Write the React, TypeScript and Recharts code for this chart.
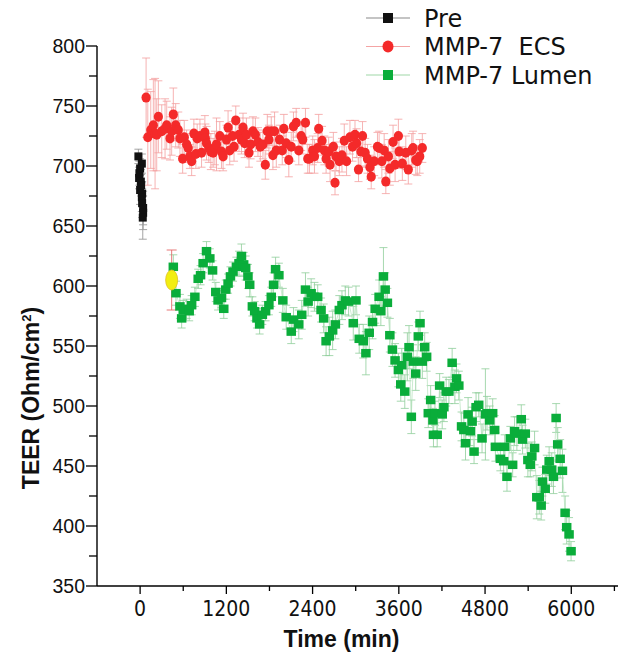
import { ScatterChart, Scatter, XAxis, YAxis, ErrorBar, Label } from 'recharts';

// [time (min), TEER (Ohm/cm2), error]
type Pt = [number, number, number];

const PRE: Pt[] = [
  [-24, 708, 6], [24, 702, 8], [0, 698, 8], [-10, 694, 10], [-14, 690, 9], [10, 687, 10], [14, 684, 9],
  [0, 680, 12], [28, 677, 10], [24, 674, 12], [28, 669, 12], [42, 665, 14], [42, 661, 14], [37, 657, 18],
];

const ECS: Pt[] = [
  [83, 757, 33], [107, 724, 40], [148, 730, 32], [184, 734, 38], [208, 727, 46], [231, 726, 30], [254, 741, 30],
  [301, 729, 22], [347, 731, 25], [370, 734, 20], [416, 723, 18], [439, 729, 20], [462, 743, 22], [495, 734, 18],
  [531, 730, 15], [554, 723, 15], [592, 706, 12], [614, 724, 14], [647, 718, 12], [669, 715, 12], [693, 708, 10],
  [717, 704, 12], [748, 727, 12], [776, 710, 12], [794, 723, 12], [832, 725, 14], [855, 711, 12], [901, 728, 14],
  [908, 723, 12], [924, 719, 14], [956, 715, 12], [984, 712, 15], [1016, 711, 12], [1040, 715, 14], [1063, 718, 22],
  [1109, 725, 12], [1132, 712, 14], [1155, 708, 12], [1202, 722, 12], [1224, 732, 14], [1247, 713, 12], [1285, 725, 12],
  [1307, 716, 12], [1331, 738, 12], [1376, 726, 14], [1410, 722, 12], [1432, 732, 12], [1455, 719, 12], [1479, 726, 14],
  [1515, 711, 12], [1538, 718, 12], [1570, 729, 12], [1604, 726, 14], [1640, 720, 12], [1673, 716, 12], [1709, 718, 12],
  [1742, 701, 12], [1770, 729, 14], [1792, 722, 12], [1825, 729, 12], [1848, 709, 12], [1871, 729, 16], [1895, 713, 14],
  [1940, 722, 12], [1978, 713, 12], [2000, 731, 12], [2033, 719, 12], [2069, 705, 14], [2103, 716, 12], [2134, 733, 12],
  [2172, 736, 12], [2208, 713, 12], [2241, 725, 12], [2263, 722, 12], [2301, 736, 12], [2333, 706, 12], [2356, 706, 12],
  [2402, 713, 12], [2426, 708, 14], [2471, 715, 12], [2485, 731, 12], [2532, 721, 12], [2564, 713, 12], [2588, 706, 12],
  [2624, 712, 12], [2643, 701, 14], [2689, 716, 12], [2712, 686, 10], [2726, 708, 12], [2772, 704, 12], [2809, 709, 14],
  [2841, 721, 14], [2873, 704, 12], [2920, 724, 14], [2956, 716, 12], [2990, 726, 12], [3012, 719, 12], [3039, 697, 10],
  [3073, 712, 12], [3095, 725, 12], [3132, 711, 12], [3164, 706, 12], [3198, 699, 10], [3216, 691, 10], [3257, 704, 12],
  [3303, 716, 12], [3326, 715, 14], [3364, 704, 14], [3396, 713, 14], [3419, 687, 10], [3455, 708, 14], [3475, 698, 14],
  [3520, 720, 14], [3548, 701, 14], [3594, 725, 14], [3604, 712, 14], [3649, 702, 14], [3697, 711, 14], [3732, 697, 12],
  [3780, 713, 14], [3798, 715, 14], [3835, 705, 12], [3857, 704, 12], [3891, 708, 14], [3927, 715, 12],
];

const LUMEN: Pt[] = [
  [462, 616, 10], [499, 594, 10], [554, 583, 10], [578, 573, 8], [600, 580, 8], [647, 581, 8], [683, 579, 8],
  [717, 584, 8], [762, 591, 8], [808, 606, 8], [841, 609, 8], [877, 619, 8], [924, 629, 8], [970, 623, 8],
  [1008, 613, 8], [1053, 595, 8], [1085, 588, 8], [1132, 590, 8], [1164, 581, 8], [1192, 597, 8], [1224, 602, 8],
  [1257, 608, 8], [1293, 612, 8], [1340, 616, 8], [1376, 619, 10], [1410, 625, 10], [1441, 618, 10], [1469, 615, 10],
  [1501, 608, 10], [1525, 601, 10], [1562, 583, 8], [1594, 579, 8], [1626, 573, 8], [1663, 568, 8], [1701, 576, 8],
  [1746, 579, 8], [1792, 584, 8], [1825, 591, 8], [1857, 601, 10], [1885, 614, 10], [1931, 609, 10], [1986, 588, 10],
  [2033, 574, 10], [2103, 562, 10], [2134, 572, 10], [2208, 568, 12], [2249, 576, 12], [2301, 597, 14], [2338, 587, 12],
  [2380, 594, 12], [2426, 591, 12], [2471, 591, 10], [2518, 580, 10], [2554, 573, 12], [2588, 554, 12], [2633, 558, 16],
  [2679, 563, 16], [2717, 568, 12], [2772, 580, 12], [2809, 584, 12], [2855, 588, 12], [2901, 587, 12], [2966, 569, 14],
  [3004, 588, 12], [3049, 556, 12], [3105, 554, 14], [3142, 544, 18], [3188, 561, 14], [3234, 570, 14], [3271, 581, 12],
  [3326, 591, 14], [3350, 579, 12], [3386, 608, 24], [3410, 597, 14], [3441, 586, 12], [3475, 559, 14], [3511, 547, 14],
  [3548, 538, 14], [3594, 530, 14], [3627, 518, 14], [3641, 534, 14], [3683, 512, 14], [3719, 541, 20], [3742, 549, 18],
  [3774, 491, 14], [3802, 537, 14], [3835, 527, 14], [3871, 558, 12], [3895, 569, 10], [3927, 537, 14], [3960, 549, 12],
  [3987, 541, 12], [4010, 494, 12], [4043, 505, 12], [4075, 488, 10], [4082, 476, 10], [4103, 494, 10], [4134, 476, 10],
  [4168, 517, 10], [4204, 493, 12], [4227, 499, 12], [4259, 512, 12], [4297, 512, 10], [4342, 536, 12], [4380, 516, 14],
  [4403, 523, 12], [4435, 517, 12], [4473, 483, 12], [4505, 480, 14], [4528, 469, 14], [4564, 493, 14], [4597, 479, 12],
  [4620, 487, 12], [4647, 462, 10], [4675, 499, 12], [4712, 501, 10], [4758, 473, 12], [4805, 493, 38], [4827, 494, 14],
  [4865, 488, 12], [4906, 494, 12], [4934, 480, 12], [4944, 466, 12], [5013, 456, 10], [5059, 454, 10], [5073, 466, 10],
  [5105, 441, 12], [5152, 473, 10], [5184, 451, 10], [5211, 479, 12], [5243, 477, 14], [5304, 489, 12], [5322, 472, 12],
  [5360, 477, 12], [5396, 455, 14], [5429, 451, 10], [5451, 458, 12], [5489, 465, 14], [5520, 424, 18], [5554, 424, 14],
  [5581, 417, 12], [5599, 437, 12], [5637, 431, 12], [5659, 447, 12], [5692, 454, 12], [5728, 447, 14], [5752, 441, 14],
  [5789, 490, 12], [5811, 468, 14], [5845, 456, 16], [5877, 446, 18], [5914, 411, 14], [5936, 399, 14], [5969, 393, 14],
  [5997, 379, 8],
];

// highlighted (yellow) reading at the switch-over
const MARKED: Pt[] = [[439, 605, 25]];

const X_TICKS = [0, 600, 1200, 1800, 2400, 3000, 3600, 4200, 4800, 5400, 6000, 6600];
const Y_TICKS = [350, 375, 400, 425, 450, 475, 500, 525, 550, 575, 600, 625, 650, 675, 700, 725, 750, 775, 800];

const toRows = (pts: Pt[]) => pts.map(([t, v, e]) => ({ t, v, e }));

const TICK_FONT = '"DejaVu Sans Condensed", "DejaVu Sans", Verdana, sans-serif';
const LEGEND_FONT = '"DejaVu Sans", Verdana, sans-serif';
const ARIAL = '"Liberation Sans", Arial, sans-serif';

function XTick({ x, y, payload }: any) {
  const major = payload.value % 1200 === 0;
  return (
    <g>
      <line x1={x} x2={x} y1={y} y2={y + (major ? 8 : 5)} stroke="#000" strokeWidth={1.3} />
      {major && (
        <text x={x} y={y + 30} textAnchor="middle" fontFamily={TICK_FONT} fontSize={21} fill="#111">
          {payload.value}
        </text>
      )}
    </g>
  );
}

function YTick({ x, y, payload }: any) {
  const major = payload.value % 50 === 0;
  return (
    <g>
      <line x1={x - (major ? 11 : 8)} x2={x} y1={y} y2={y} stroke="#000" strokeWidth={1.3} />
      {major && (
        <text x={x - 12} y={y} dy="0.36em" textAnchor="end" fontFamily={ARIAL} fontSize={19.5} fill="#111">
          {payload.value}
        </text>
      )}
    </g>
  );
}

const squareShape = (fill: string, w: number, h: number) => (p: any) =>
  <rect x={p.cx - w / 2} y={p.cy - h / 2} width={w} height={h} fill={fill} />;

const circleShape = (p: any) => <ellipse cx={p.cx} cy={p.cy} rx={4.6} ry={5} fill="#f42a2a" />;

const yellowShape = (p: any) => <ellipse cx={p.cx} cy={p.cy} rx={6} ry={10} fill="#f2ee10" stroke="#e0c020" strokeWidth={0.8} />;

function LegendBox() {
  const rows = [
    { name: 'Pre', line: '#8a8a8a', mark: <rect x={19} y={-5} width={10} height={10} fill="#111" /> },
    { name: 'MMP-7\u00a0\u00a0ECS', line: '#f4a4a4', mark: <ellipse cx={24} cy={0} rx={5.5} ry={6} fill="#f42a2a" /> },
    { name: 'MMP-7 Lumen', line: '#9fd8a8', mark: <rect x={19} y={-5} width={10} height={10} fill="#0aad3a" /> },
  ];
  return (
    <svg width={260} height={92} style={{ position: 'absolute', left: 364, top: 0 }}>
      {rows.map((r, i) => (
        <g key={r.name} transform={`translate(0, ${18 + i * 28.5})`}>
          <line x1={2} x2={46} y1={0} y2={0} stroke={r.line} strokeWidth={1.2} />
          {r.mark}
          <text x={60} y={0} dy="0.36em" fontFamily={LEGEND_FONT} fontSize={24} fill="#111">
            {r.name}
          </text>
        </g>
      ))}
    </svg>
  );
}

export default function App() {
  return (
    <div style={{ position: 'absolute', left: 0, top: 0, width: 620, height: 652, background: '#fff' }}>
      <ScatterChart width={620} height={652} margin={{ top: 46, right: 2, bottom: 0, left: 0 }}>
        <XAxis
          type="number"
          dataKey="t"
          domain={[-600, 6650]}
          ticks={X_TICKS}
          interval={0}
          tick={<XTick />}
          tickLine={false}
          tickSize={0}
          tickMargin={0}
          height={66}
          axisLine={{ stroke: '#000', strokeWidth: 1.4 }}
        >
          <Label
            content={({ viewBox }: any) => (
              <text
                x={viewBox.x + viewBox.width / 2 - 16}
                y={viewBox.y + 61}
                textAnchor="middle"
                fontFamily={ARIAL}
                fontWeight="bold"
                fontSize={23}
                fill="#111"
              >
                Time (min)
              </text>
            )}
          />
        </XAxis>
        <YAxis
          type="number"
          dataKey="v"
          domain={[350, 800]}
          ticks={Y_TICKS}
          interval={0}
          tick={<YTick />}
          tickLine={false}
          tickSize={0}
          tickMargin={0}
          width={97}
          axisLine={{ stroke: '#000', strokeWidth: 1.4 }}
        >
          <Label
            content={({ viewBox }: any) => {
              const cx = 31;
              const cy = viewBox.y + viewBox.height / 2 + 82;
              return (
                <text
                  x={cx}
                  y={cy}
                  dy="0.36em"
                  transform={`rotate(-90 ${cx} ${cy})`}
                  textAnchor="middle"
                  fontFamily={ARIAL}
                  fontWeight="bold"
                  fontSize={23}
                  fill="#111"
                >
                  TEER (Ohm/cm<tspan dy={-8} fontSize={13}>2</tspan>
                  <tspan dy={8}>)</tspan>
                </text>
              );
            }}
          />
        </YAxis>

        <Scatter
          name="MMP-7 Lumen"
          data={toRows(LUMEN)}
          line={{ stroke: '#b5e2bb', strokeWidth: 0.7 }}
          lineType="joint"
          shape={squareShape('#0aad3a', 9.5, 8.5)}
          isAnimationActive={false}
        >
          <ErrorBar dataKey="e" direction="y" width={4} stroke="#8fce9a" strokeWidth={0.8} isAnimationActive={false} />
        </Scatter>
        <Scatter
          name="MMP-7 ECS"
          data={toRows(ECS)}
          line={{ stroke: '#f8c4c4', strokeWidth: 0.6 }}
          lineType="joint"
          shape={circleShape}
          isAnimationActive={false}
        >
          <ErrorBar dataKey="e" direction="y" width={4} stroke="#f4a0a0" strokeWidth={0.8} isAnimationActive={false} />
        </Scatter>
        <Scatter
          name="Pre"
          data={toRows(PRE)}
          line={{ stroke: '#999', strokeWidth: 0.6 }}
          lineType="joint"
          shape={squareShape('#111', 8, 8)}
          isAnimationActive={false}
        >
          <ErrorBar dataKey="e" direction="y" width={4} stroke="#9a9a9a" strokeWidth={0.9} isAnimationActive={false} />
        </Scatter>
        <Scatter name="marked" data={toRows(MARKED)} shape={yellowShape} isAnimationActive={false}>
          <ErrorBar dataKey="e" direction="y" width={5} stroke="#e46a6a" strokeWidth={0.9} isAnimationActive={false} />
        </Scatter>
      </ScatterChart>
      <LegendBox />
    </div>
  );
}
